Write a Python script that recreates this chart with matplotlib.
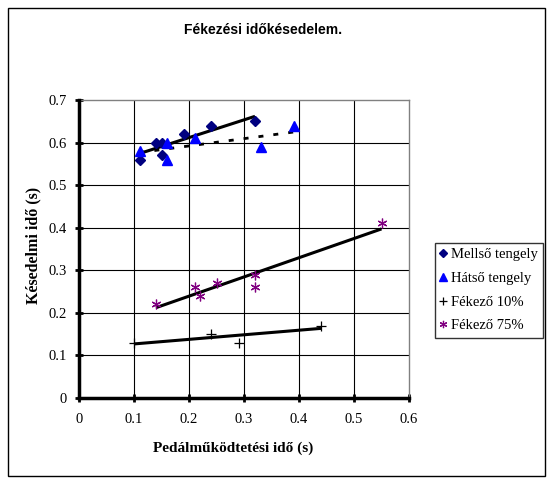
import numpy as np
import matplotlib
matplotlib.use('Agg')
import matplotlib.pyplot as plt
from matplotlib.patches import Rectangle

# adatok
mello_x = [0.11, 0.14, 0.15, 0.15, 0.19, 0.24, 0.32]
mello_y = [0.56, 0.60, 0.60, 0.57, 0.62, 0.64, 0.65]
hatso_x = [0.11, 0.16, 0.16, 0.21, 0.33, 0.39]
hatso_y = [0.58, 0.60, 0.56, 0.61, 0.59, 0.64]
fek10_x = [0.10, 0.24, 0.29, 0.44]
fek10_y = [0.13, 0.15, 0.13, 0.17]
fek75_x = [0.14, 0.21, 0.22, 0.25, 0.32, 0.32, 0.55]
fek75_y = [0.22, 0.26, 0.24, 0.27, 0.29, 0.26, 0.41]

x_ticks = [0, 0.1, 0.2, 0.3, 0.4, 0.5, 0.6]
y_ticks = [0, 0.1, 0.2, 0.3, 0.4, 0.5, 0.6, 0.7]

serif = ['Liberation Serif', 'DejaVu Serif']
sans = ['Liberation Sans', 'DejaVu Sans']


def trend(ax, x, y, **kw):
    '''linearis trendvonal a pontok kozott'''
    k, b = np.polyfit(x, y, 1)
    xs = np.array([min(x), max(x)])
    ax.plot(xs, k * xs + b, color='black', zorder=3, **kw)


fig = plt.figure(figsize=(5.5, 4.8), dpi=100)
fig.patches.append(Rectangle((8 / 550, 4 / 480), 537 / 550, 468 / 480,
                             transform=fig.transFigure, fill=False,
                             edgecolor='black', linewidth=1.0))

ax = fig.add_axes([79 / 550, 82 / 480, 330 / 550, 298 / 480])
ax.set_xlim(0, 0.6)
ax.set_ylim(0, 0.7)

for v in x_ticks[1:-1]:
    ax.axvline(v, color='black', linewidth=0.8, zorder=1)
for v in y_ticks[1:-1]:
    ax.axhline(v, color='black', linewidth=0.8, zorder=1)

trend(ax, mello_x, mello_y, linewidth=2.2, solid_capstyle='butt')
trend(ax, hatso_x, hatso_y, linewidth=2.0, dashes=(1.8, 3.6))
trend(ax, fek10_x, fek10_y, linewidth=2.2, solid_capstyle='butt')
trend(ax, fek75_x, fek75_y, linewidth=2.2, solid_capstyle='butt')

ax.plot(mello_x, mello_y, linestyle='none', marker='D', markersize=5,
        color='#000080', label='Mellső tengely', zorder=4)
ax.plot(hatso_x, hatso_y, linestyle='none', marker='^', markersize=7,
        color='#0000FF', label='Hátső tengely', zorder=4)
ax.plot(fek10_x, fek10_y, linestyle='none', marker='+', markersize=7,
        color='black', markeredgewidth=0.9, label='Fékező 10%', zorder=4)
ax.plot(fek75_x, fek75_y, linestyle='none', marker=(6, 2, 0), markersize=7,
        color='#800080', markeredgewidth=0.9, label='Fékező 75%', zorder=4)

for side in ['top', 'right']:
    ax.spines[side].set_color('#808080')
    ax.spines[side].set_linewidth(1.0)
for side in ['left', 'bottom']:
    ax.spines[side].set_linewidth(2.5)
    ax.spines[side].set_zorder(5)

ax.set_xticks(x_ticks)
ax.set_yticks(y_ticks)
ax.set_xticklabels([('%g' % v) for v in x_ticks], fontfamily=serif, fontsize=10.5)
ax.set_yticklabels([('%g' % v) for v in y_ticks], fontfamily=serif, fontsize=10.5)
ax.tick_params(direction='inout', length=6, width=2, pad=6)
ax.tick_params(axis='x', pad=8)

fig.text(233 / 550, 1 - 448 / 480, 'Pedálműködtetési idő (s)', ha='center',
         va='center', fontfamily=serif, fontsize=11, fontweight='bold')
fig.text(33 / 550, 1 - 245 / 480, 'Késedelmi idő (s)', ha='center',
         va='center', rotation=90, fontfamily=serif, fontsize=11.5,
         fontweight='bold')
fig.text(263 / 550, 1 - 30 / 480, 'Fékezési időkésedelem.', ha='center',
         va='center', fontfamily=sans, fontsize=10, fontweight='bold')

leg = fig.legend(loc='upper left', bbox_to_anchor=(435 / 550, 1 - 243 / 480),
                 prop={'family': serif, 'size': 10.5}, frameon=True,
                 fancybox=False, edgecolor='black', handlelength=0.4,
                 handletextpad=0.35, borderpad=0.35, labelspacing=0.72,
                 borderaxespad=0, markerscale=0.75)
leg.get_frame().set_linewidth(1.0)

plt.savefig('out.png', dpi=100)
